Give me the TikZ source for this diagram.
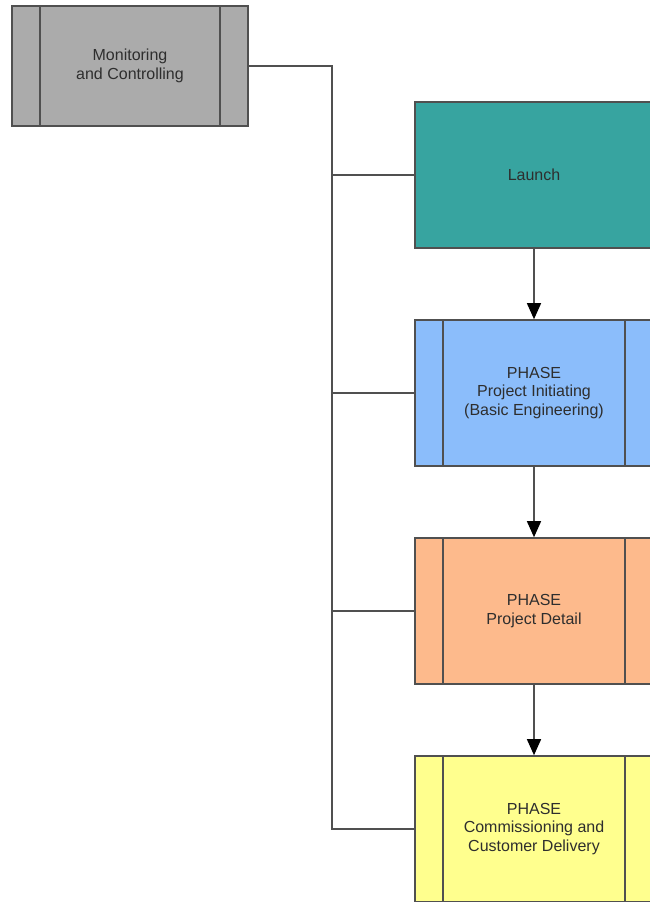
\documentclass[tikz,border=0pt]{standalone}
\usepackage{fontspec}
\setmainfont{Liberation Sans}
\usetikzlibrary{arrows.meta, positioning}

\definecolor{mcgrey}{HTML}{ABABAB}
\definecolor{launchteal}{HTML}{37A4A0}
\definecolor{initblue}{HTML}{8BBDFB}
\definecolor{detailorange}{HTML}{FDBA8C}
\definecolor{commyellow}{HTML}{FFFF8E}
\definecolor{boxline}{HTML}{505050}
\definecolor{textgrey}{HTML}{2E2E2E}

\tikzset{
  box/.style={draw=boxline, line width=1.6pt, minimum width=238pt, minimum height=146pt,
    align=center, text=textgrey, font=\fontsize{16}{18.5}\selectfont},
  phase/.style={box, path picture={
    \draw[boxline, line width=1.6pt]
      ([xshift=28pt]path picture bounding box.north west) -- ([xshift=28pt]path picture bounding box.south west)
      ([xshift=-28pt]path picture bounding box.north east) -- ([xshift=-28pt]path picture bounding box.south east);}},
  link/.style={draw=boxline, line width=1.4pt},
  flow/.style={link, -{Triangle[length=16pt, width=14pt, color=black]}}
}

\begin{document}
\begin{tikzpicture}[x=1pt, y=-1pt]
  \useasboundingbox (0,0) rectangle (650,902);
  \clip (0,0) rectangle (650,902);

  \node[phase, fill=mcgrey, minimum width=236pt, minimum height=120pt] (mc) at (130,66) {Monitoring\\and Controlling};
  \node[box, fill=launchteal] (launch) at (534,175) {Launch};
  \node[phase, fill=initblue] (init) at (534,393) {PHASE\\Project Initiating\\(Basic Engineering)};
  \node[phase, fill=detailorange] (detail) at (534,611) {PHASE\\Project Detail};
  \node[phase, fill=commyellow] (comm) at (534,829) {PHASE\\Commissioning and\\Customer Delivery};

  % control line down the left side
  \coordinate (trunk) at (332,829);
  \draw[link] (mc.east) -| (trunk) -- (comm.west);
  \foreach \n in {launch, init, detail}
    \draw[link] (\n.west -| trunk) -- (\n.west);

  \draw
    (launch) edge[flow] (init)
    (init) edge[flow] (detail)
    (detail) edge[flow] (comm);
\end{tikzpicture}
\end{document}
